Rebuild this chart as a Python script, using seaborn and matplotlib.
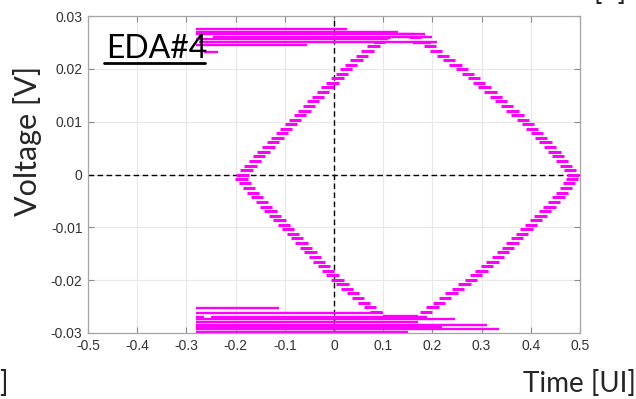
import numpy as np
import pandas as pd
import matplotlib
matplotlib.use("Agg")
import matplotlib.pyplot as plt
import matplotlib.ticker as ticker
from matplotlib.lines import Line2D
import seaborn as sns

# ---- eye diagram data ----
# short trace segments on the four transition edges: voltage level and centre time
up_left_v = [0.0000, 0.0009, 0.0017, 0.0026, 0.0035, 0.0043, 0.0052, 0.0061, 0.0069, 0.0078,
             0.0087, 0.0095, 0.0104, 0.0113, 0.0121, 0.0130, 0.0139, 0.0147, 0.0156, 0.0165,
             0.0173, 0.0182, 0.0191, 0.0199, 0.0208, 0.0217, 0.0225, 0.0234, 0.0243, 0.0251,
             0.0260]
up_left_t = [-0.186, -0.178, -0.170, -0.161, -0.152, -0.143, -0.133, -0.124, -0.115, -0.106,
             -0.097, -0.088, -0.079, -0.069, -0.060, -0.051, -0.042, -0.033, -0.023, -0.013,
             -0.003, 0.007, 0.016, 0.025, 0.035, 0.046, 0.057, 0.068, 0.080, 0.091,
             0.102]

up_right_v = [0.0000, 0.0009, 0.0017, 0.0026, 0.0035, 0.0043, 0.0052, 0.0061, 0.0069, 0.0078,
              0.0087, 0.0095, 0.0104, 0.0113, 0.0121, 0.0130, 0.0139, 0.0147, 0.0156, 0.0165,
              0.0173, 0.0182, 0.0191, 0.0199, 0.0208, 0.0217, 0.0225, 0.0234, 0.0243, 0.0251,
              0.0260]
up_right_t = [0.486, 0.479, 0.471, 0.463, 0.455, 0.448, 0.439, 0.430, 0.421, 0.412,
              0.403, 0.394, 0.384, 0.373, 0.363, 0.352, 0.340, 0.329, 0.318, 0.306,
              0.295, 0.284, 0.272, 0.260, 0.247, 0.234, 0.221, 0.208, 0.195, 0.180,
              0.165]

low_left_v = [-0.0009, -0.0017, -0.0026, -0.0035, -0.0043, -0.0052, -0.0061, -0.0069, -0.0078, -0.0087,
              -0.0095, -0.0104, -0.0113, -0.0121, -0.0130, -0.0139, -0.0147, -0.0156, -0.0165, -0.0173,
              -0.0182, -0.0191, -0.0199, -0.0208, -0.0217, -0.0225, -0.0234, -0.0243, -0.0251, -0.0260]
low_left_t = [-0.188, -0.181, -0.173, -0.164, -0.156, -0.147, -0.138, -0.129, -0.120, -0.111,
              -0.102, -0.093, -0.084, -0.075, -0.066, -0.057, -0.048, -0.039, -0.030, -0.021,
              -0.012, -0.003, 0.007, 0.017, 0.027, 0.038, 0.049, 0.061, 0.073, 0.086]

low_right_v = [-0.0009, -0.0017, -0.0026, -0.0035, -0.0043, -0.0052, -0.0061, -0.0069, -0.0078, -0.0087,
               -0.0095, -0.0104, -0.0113, -0.0121, -0.0130, -0.0139, -0.0147, -0.0156, -0.0165, -0.0173,
               -0.0182, -0.0191, -0.0199, -0.0208, -0.0217, -0.0225, -0.0234, -0.0243, -0.0251, -0.0260]
low_right_t = [0.484, 0.478, 0.471, 0.463, 0.456, 0.447, 0.438, 0.429, 0.420, 0.410,
               0.400, 0.391, 0.382, 0.372, 0.363, 0.353, 0.344, 0.333, 0.322, 0.311,
               0.300, 0.289, 0.278, 0.265, 0.252, 0.239, 0.226, 0.213, 0.200, 0.187]

seg_width = 0.025

# long flat traces along the rails: voltage, start time, end time
top_v = [0.0275, 0.0270, 0.0266, 0.0265, 0.0261, 0.0256, 0.0251, 0.0249, 0.0246, 0.0231]
top_t0 = [-0.280, -0.280, 0.115, -0.280, -0.245, -0.280, -0.275, 0.160, -0.280, -0.265]
top_t1 = [0.027, 0.130, 0.162, 0.185, 0.200, 0.110, 0.210, 0.197, -0.055, -0.235]

bot_v = [-0.0253, -0.0263, -0.0267, -0.0269, -0.0269, -0.0274, -0.0279, -0.0284, -0.0289, -0.0293, -0.0298]
bot_t0 = [-0.280, -0.280, 0.100, -0.280, -0.250, -0.280, -0.280, -0.280, -0.280, -0.280, -0.280]
bot_t1 = [-0.111, 0.100, 0.170, -0.265, 0.190, 0.245, 0.170, 0.310, 0.220, 0.335, 0.150]

x_ticks = [-0.5, -0.4, -0.3, -0.2, -0.1, 0, 0.1, 0.2, 0.3, 0.4, 0.5]
y_ticks = [-0.03, -0.02, -0.01, 0, 0.01, 0.02, 0.03]

# ---- long-form tables for seaborn (two rows per segment) ----
edge_rows = []
seg = 0
for vs, ts in [(up_left_v, up_left_t), (up_right_v, up_right_t),
               (low_left_v, low_left_t), (low_right_v, low_right_t)]:
    for v, t in zip(vs, ts):
        edge_rows.append({"seg": seg, "t": t - seg_width / 2, "v": v})
        edge_rows.append({"seg": seg, "t": t + seg_width / 2, "v": v})
        seg += 1
edge_df = pd.DataFrame(edge_rows)

rail_rows = []
for vs, t0s, t1s in [(top_v, top_t0, top_t1), (bot_v, bot_t0, bot_t1)]:
    for v, t0, t1 in zip(vs, t0s, t1s):
        rail_rows.append({"seg": seg, "t": t0, "v": v})
        rail_rows.append({"seg": seg, "t": t1, "v": v})
        seg += 1
rail_df = pd.DataFrame(rail_rows)

sns.set_style("whitegrid")
tick_font = ["Liberation Sans Narrow", "Liberation Sans", "DejaVu Sans"]
label_font = ["Lato", "DejaVu Sans"]
plt.rcParams["font.family"] = tick_font

magenta = "#ff00ff"

fig = plt.figure(figsize=(6.36, 3.99), dpi=100)
ax = fig.add_axes([88 / 636, 1 - 333 / 399, 492 / 636, 317 / 399])

sns.lineplot(data=edge_df, x="t", y="v", units="seg", estimator=None, sort=False,
             color=magenta, lw=2.2, solid_capstyle="butt", legend=False, ax=ax)
sns.lineplot(data=rail_df, x="t", y="v", units="seg", estimator=None, sort=False,
             color=magenta, lw=1.7, solid_capstyle="butt", legend=False, ax=ax)

# dashed zero lines
ax.axhline(0, color="black", lw=1.0, ls=(0, (4, 2.5)), zorder=1)
ax.axvline(0, color="black", lw=1.0, ls=(0, (4, 2.5)), zorder=1)

ax.set_xlim(-0.5, 0.5)
ax.set_ylim(-0.03, 0.03)
ax.set_xticks(x_ticks)
ax.set_yticks(y_ticks)
ax.xaxis.set_major_formatter(ticker.FuncFormatter(lambda x, _: f"{x:g}"))
ax.yaxis.set_major_formatter(ticker.FuncFormatter(lambda y, _: f"{y:g}"))
ax.tick_params(direction="in", length=4, width=0.8, color="#8c8c8c",
               labelsize=10, labelcolor="#333333", top=True, right=True,
               bottom=True, left=True)
ax.tick_params(axis="x", pad=4)
ax.tick_params(axis="y", pad=4)
ax.grid(True, color="#e8e8e8", lw=0.8)
ax.set_axisbelow(True)
for spine in ax.spines.values():
    spine.set_visible(True)
    spine.set_color("#a6a6a6")
    spine.set_linewidth(0.9)
ax.set_xlabel("")
ax.set_ylabel("")

# annotation label with underline
ax.text(0.036, 0.868, "EDA#4", transform=ax.transAxes, fontsize=23,
        family=label_font, color="black", ha="left", va="baseline")
ax.add_line(Line2D([0.033, 0.237], [0.853, 0.853], transform=ax.transAxes,
                   color="black", lw=2.0))

fig.text(28 / 636, 0.647, "Voltage [V]", rotation=90, fontsize=22, family=label_font,
         ha="center", va="center")
fig.text(1.0, 0.018, "Time [UI]", fontsize=20, family=label_font, ha="right", va="baseline")
fig.text(0.012, 0.018, "]", fontsize=20, family=label_font, ha="right", va="baseline")
fig.text(593 / 636, 1.0, "[7]", fontsize=20, family=label_font, ha="left", va="baseline")

fig.savefig("out.png", dpi=100)
